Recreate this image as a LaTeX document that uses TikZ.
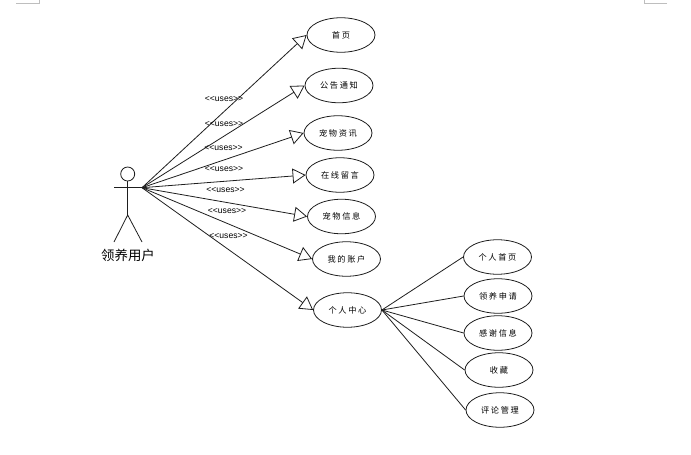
\documentclass[tikz,border=0pt]{standalone}
\usepackage{fontspec}
\setmainfont{Liberation Sans}
\newfontfamily\cjkfont[LetterSpace=20]{Noto Sans CJK SC}
\newfontfamily\actorfont{Noto Sans CJK SC}
\definecolor{line1}{RGB}{30, 30, 30}
\definecolor{mark1}{RGB}{190, 190, 190}
\usetikzlibrary{shapes.geometric, arrows.meta}
\tikzset{
  usecase/.style={draw=line1, ellipse, line width=0.8pt, minimum width=68pt, minimum height=34.5pt, inner sep=0pt, font=\cjkfont\fontsize{8.2}{8}\selectfont},
  usesline/.style={draw=line1, line width=0.8pt, -{Triangle[open, length=13pt, width=15pt]}},
  subline/.style={draw=line1, line width=0.8pt},
  useslabel/.style={inner sep=0pt, font=\fontsize{8.6}{8}\selectfont},
  pagemark/.style={draw=mark1, line width=0.8pt}
}

\begin{document}
\begin{tikzpicture}[x=1pt, y=-1pt]
  \useasboundingbox (0,0) rectangle (691,455);

  % page corners
  \draw[pagemark] (16,3.5) -- (39.5,3.5) -- (39.5,0);
  \draw[pagemark] (667,3.5) -- (644.5,3.5) -- (644.5,0);

  % actor
  \node[draw=line1, circle, line width=0.8pt, minimum size=14pt, inner sep=0pt] (head) at (127.7,174) {};
  \coordinate (hip) at (127.7,215);
  \coordinate (armleft) at (114,187.7);
  \coordinate (hand) at (142,187.7);
  \coordinate (footleft) at (114,242);
  \coordinate (footright) at (142,242);
  \draw[subline] (head) -- (hip);
  \draw[subline] (armleft) -- (hand);
  \draw[subline] (footleft) -- (hip) -- (footright);
  \node[inner sep=0pt, font=\actorfont\fontsize{13.4}{14}\selectfont] (user) at (128,255) {领养用户};

  % use cases
  \node[usecase] (home) at (341,35) {首页};
  \node[usecase] (notice) at (339,85.5) {公告通知};
  \node[usecase] (news) at (338,133) {宠物资讯};
  \node[usecase] (message) at (340,175) {在线留言};
  \node[usecase] (pet) at (341.5,216.5) {宠物信息};
  \node[usecase] (account) at (346.5,259) {我的账户};
  \node[usecase] (center) at (347.5,310) {个人中心};

  \node[usecase] (profile) at (497.5,257) {个人首页};
  \node[usecase] (apply) at (498,296) {领养申请};
  \node[usecase] (thanks) at (498,333) {感谢信息};
  \node[usecase] (favorite) at (499,370) {收藏};
  \node[usecase] (comment) at (500,410) {评论管理};

  % uses lines
  \draw[usesline] (hand) -- (home.west);
  \draw[usesline] (hand) -- (notice.west);
  \draw[usesline] (hand) -- (news.west);
  \draw[usesline] (hand) -- (message.west);
  \draw[usesline] (hand) -- (pet.west);
  \draw[usesline] (hand) -- (account.west);
  \draw[usesline] (hand) -- (center.west);

  \draw[subline] (center.east) -- (profile.west);
  \draw[subline] (center.east) -- (apply.west);
  \draw[subline] (center.east) -- (thanks.west);
  \draw[subline] (center.east) -- (favorite.west);
  \draw[subline] (center.east) -- (comment.west);

  % labels
  \node[useslabel] (uses1) at (224,99) {<{}<uses>{}>};
  \node[useslabel] (uses2) at (224,124.5) {<{}<uses>{}>};
  \node[useslabel] (uses3) at (223.5,148.5) {<{}<uses>{}>};
  \node[useslabel] (uses4) at (224,169.5) {<{}<uses>{}>};
  \node[useslabel] (uses5) at (225.5,190.5) {<{}<uses>{}>};
  \node[useslabel] (uses6) at (227,211.5) {<{}<uses>{}>};
  \node[useslabel] (uses7) at (228.5,236.5) {<{}<uses>{}>};
\end{tikzpicture}
\end{document}
